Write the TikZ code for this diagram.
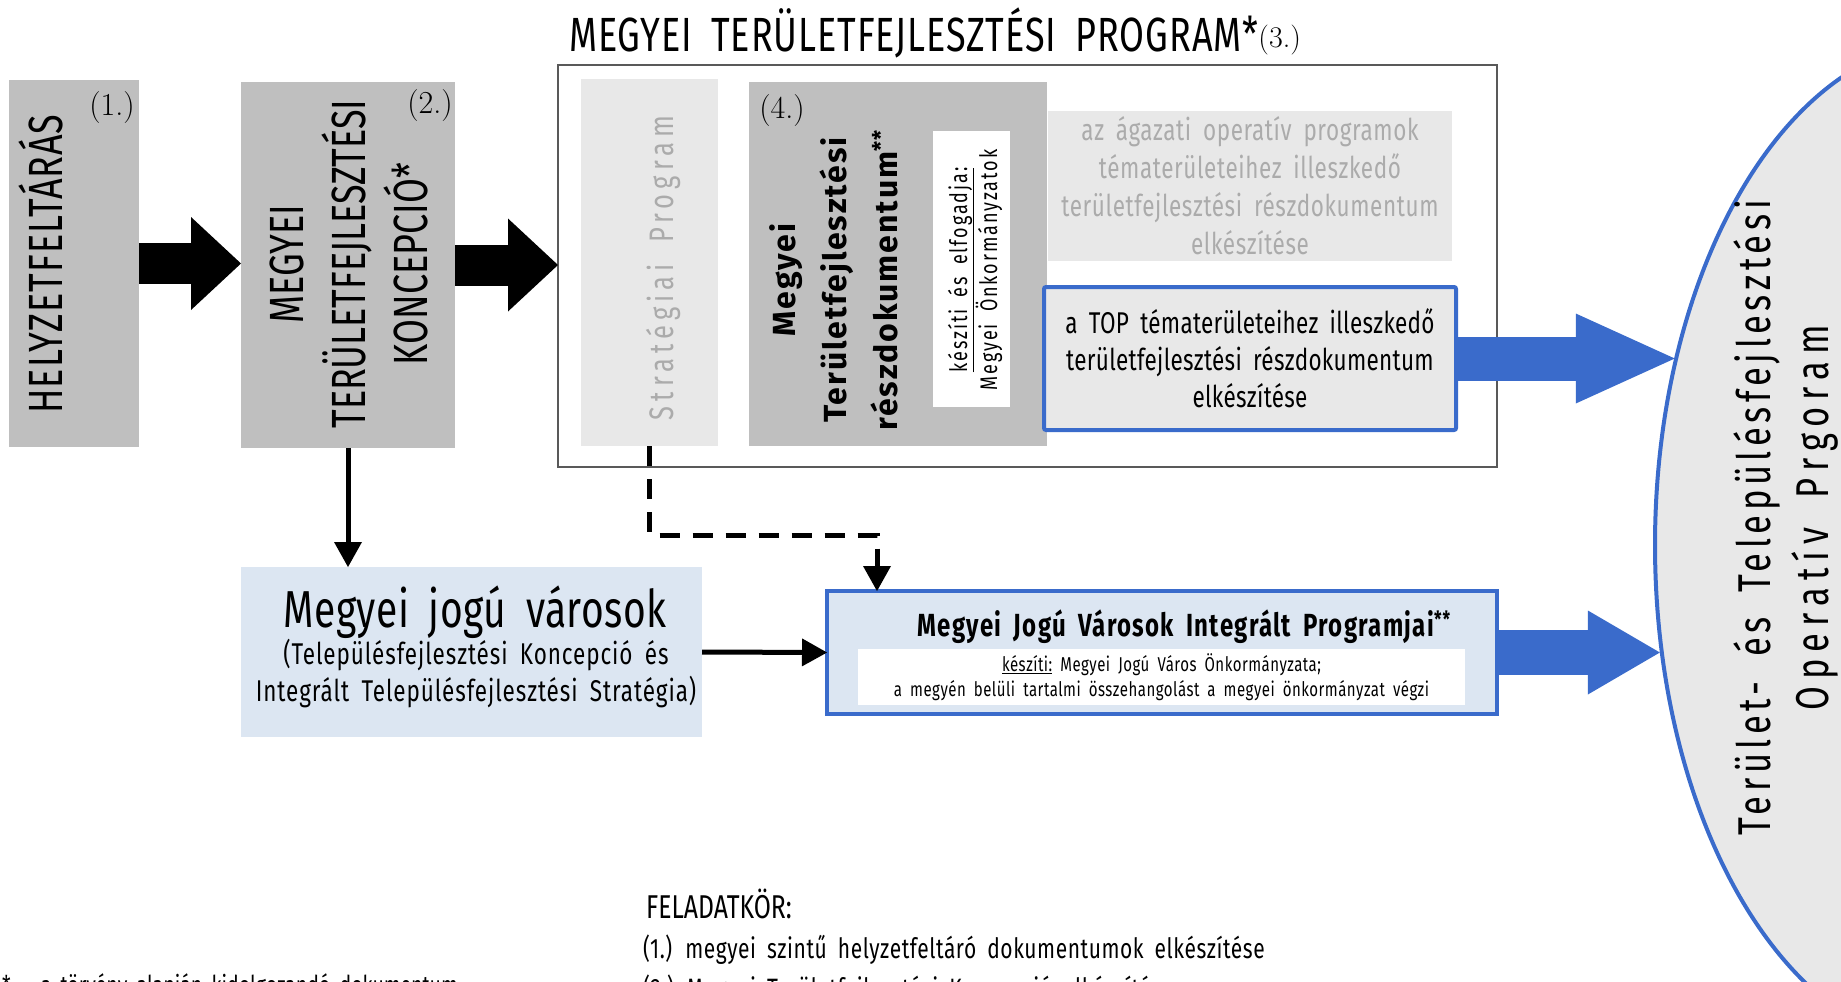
\documentclass[tikz,border=0pt]{standalone}
\usepackage{fontspec}
\newfontfamily\cond[FakeStretch=0.75,WordSpace=1.8]{Fira Sans}
\newfontfamily\wide{Fira Sans}
\usetikzlibrary{shapes.geometric,arrows.meta}

\definecolor{boxgray}{HTML}{BFBFBF}
\definecolor{palegray}{HTML}{E8E8E8}
\definecolor{fadetext}{HTML}{ABABAB}
\definecolor{topblue}{HTML}{3A6BCB}
\definecolor{paleblue}{HTML}{DCE6F2}
\definecolor{frame}{HTML}{595959}

\newcommand{\fsz}[2]{\fontsize{#1}{#2}\selectfont}
\newcommand{\ls}[1]{\addfontfeature{LetterSpace=#1}}

\tikzset{
  box/.style={rectangle, inner sep=0pt, outer sep=0pt},
  graybox/.style={box, fill=boxgray},
  palebox/.style={box, fill=palegray},
  bluebox/.style={box, draw=topblue, line width=4pt},
  numlabel/.style={font=\fsz{32}{32}},
  captext/.style={font=\cond\fsz{48}{62}\ls{2}},
  blockarrow/.style={line width=41pt, -{Triangle[length=50pt,width=93pt,line width=0pt]}},
  bluearrow/.style={topblue, line width=44pt, -{Triangle[length=99pt,width=90pt,line width=0pt]}},
  thinarrow/.style={line width=5pt, -{Triangle[length=25pt,width=28pt,line width=0pt]}},
}

\begin{document}
\begin{tikzpicture}[x=1pt,y=-1pt]
  \useasboundingbox (0,0) rectangle (1841,982);
  \clip (0,0) rectangle (1841,982);

  % helyzetfeltaras es koncepcio
  \node[graybox, minimum width=130pt, minimum height=367pt] (helyzet) at (74,263.5) {};
  \node[rotate=90, captext] (helyzettxt) at (41,264) {HELYZETFELTÁRÁS};
  \node[numlabel] (num1) at (112,108) {(1.)};

  \node[graybox, minimum width=214pt, minimum height=366pt] (mtk) at (348,265) {};
  \node[rotate=90, align=center, captext, font=\cond\fsz{48}{62}] (mtktxt) at (349,264) {MEGYEI\\TERÜLETFEJLESZTÉSI\\KONCEPCIÓ*};
  \node[numlabel] (num2) at (430,106) {(2.)};

  \draw[blockarrow] (helyzet.east) -- (helyzet.east -| mtk.west);

  % megyei teruletfejlesztesi program
  \node[box, draw=frame, line width=2pt, minimum width=939pt, minimum height=402pt] (mtp) at (1027.5,266) {};
  \node[anchor=base west, inner sep=0pt, font=\cond\fsz{48}{48}\ls{2}] (mtptitle) at (569,52) {MEGYEI TERÜLETFEJLESZTÉSI PROGRAM*\raisebox{4pt}{\rmfamily\fsz{30}{30}(3.)}};

  \draw[blockarrow] (mtk.east) -- (mtk.east -| mtp.west);

  \node[palebox, minimum width=137pt, minimum height=367pt] (strat) at (649.5,262.5) {};
  \node[rotate=90, text=fadetext, font=\cond\fsz{34}{34}\ls{15}] (strattxt) at (663,268) {Stratégiai Program};

  \node[graybox, minimum width=298pt, minimum height=364pt] (mtrd) at (898,264) {};
  \node[numlabel] (num4) at (782,111) {(4.)};
  \node[rotate=90, align=center, font=\wide\bfseries\fsz{32}{51}\ls{6}] (mtrdtxt) at (834,280) {Megyei\\Területfejlesztési\\részdokumentum\textsuperscript{**}};
  \node[box, fill=white, minimum width=77pt, minimum height=276pt] (keszit) at (971.5,269) {};
  \node[rotate=90, align=center, font=\cond\fsz{24}{30}\ls{8}] (keszittxt) at (975,270) {\underline{készíti és elfogadja:}\\Megyei Önkormányzatok};

  \node[palebox, minimum width=404pt, minimum height=150pt, text=fadetext, align=center, font=\cond\fsz{30}{38}\ls{2}] (agazati) at (1250,186) {az ágazati operatív programok\\tématerületeihez illeszkedő\\területfejlesztési részdokumentum\\elkészítése};
  \node[bluebox, fill=palegray, rounded corners=2pt, minimum width=412pt, minimum height=143pt, align=center, font=\cond\fsz{30}{37}\ls{1}] (topbox) at (1250,358.5) {a TOP tématerületeihez illeszkedő\\területfejlesztési részdokumentum\\elkészítése};

  % TOP
  \node[ellipse, draw=topblue, line width=4pt, fill=palegray, minimum width=600pt, minimum height=1010pt] (ell) at (1955,545) {};
  \node[rotate=90, align=center, font=\cond\fsz{46}{58}\ls{10}] (elltxt) at (1786,518) {Terület- és Településfejlesztési\\{\ls{15.5}Operatív Prgoram}};

  % megyei jogu varosok
  \node[box, fill=paleblue, minimum width=461pt, minimum height=170pt] (mjv) at (471.5,652) {};
  \node[font=\cond\fsz{52}{52}\ls{1}] (mjvtitle) at (475,612) {Megyei jogú városok};
  \node[align=center, font=\cond\fsz{30}{37}\ls{3}] (mjvsub) at (476,674) {(Településfejlesztési Koncepció és\\Integrált Településfejlesztési Stratégia)};

  \node[bluebox, fill=paleblue, minimum width=670pt, minimum height=123pt] (mjvip) at (1162,652.5) {};
  \node[font=\cond\bfseries\fsz{32}{32}\ls{4}] (mjviptitle) at (1184,627) {Megyei Jogú Városok Integrált Programjai\textsuperscript{**}};
  \node[box, fill=white, minimum width=607pt, minimum height=56pt, align=center, font=\cond\fsz{20}{25}\ls{2.5}] (mjvipkeszit) at (1161.5,677) {\underline{készíti:} Megyei Jogú Város Önkormányzata;\\a megyén belüli tartalmi összehangolást a megyei önkormányzat végzi};

  \draw[bluearrow] (topbox.east) -- (topbox.east -| ell.146);
  \draw[bluearrow, line width=45pt, -{Triangle[length=72pt,width=84pt,line width=0pt]}] (mjvip.east) -- (mjvip.east -| ell.200);

  \draw[thinarrow] (mtk.south) -- (mtk.south |- mjv.north);
  \draw[thinarrow] (mjv.east) -- (mjvip.west);
  \coordinate (dashbend) at (877,535);
  \draw[thinarrow, dash pattern=on 20pt off 13pt] (strat.south) |- (dashbend) -- (dashbend |- mjvip.north);

  % feladatkor
  \node[anchor=base west, inner sep=0pt, font=\cond\fsz{33}{33}] (feladat) at (646,918) {FELADATKÖR:};
  \node[anchor=base west, inner sep=0pt, font=\cond\fsz{28}{28}\ls{2}] (feladat1) at (643,958) {(1.) megyei szintű helyzetfeltáró dokumentumok elkészítése};
  \node[anchor=base west, inner sep=0pt, font=\cond\fsz{28}{28}\ls{2}] (feladat2) at (643,998) {(2.) Megyei Területfejlesztési Koncepció elkészítése};
  \node[anchor=base west, inner sep=0pt, font=\cond\fsz{26}{26}] (jegyzet) at (2,994) {*\hspace{30pt}a törvény alapján kidolgozandó dokumentum};
\end{tikzpicture}
\end{document}
